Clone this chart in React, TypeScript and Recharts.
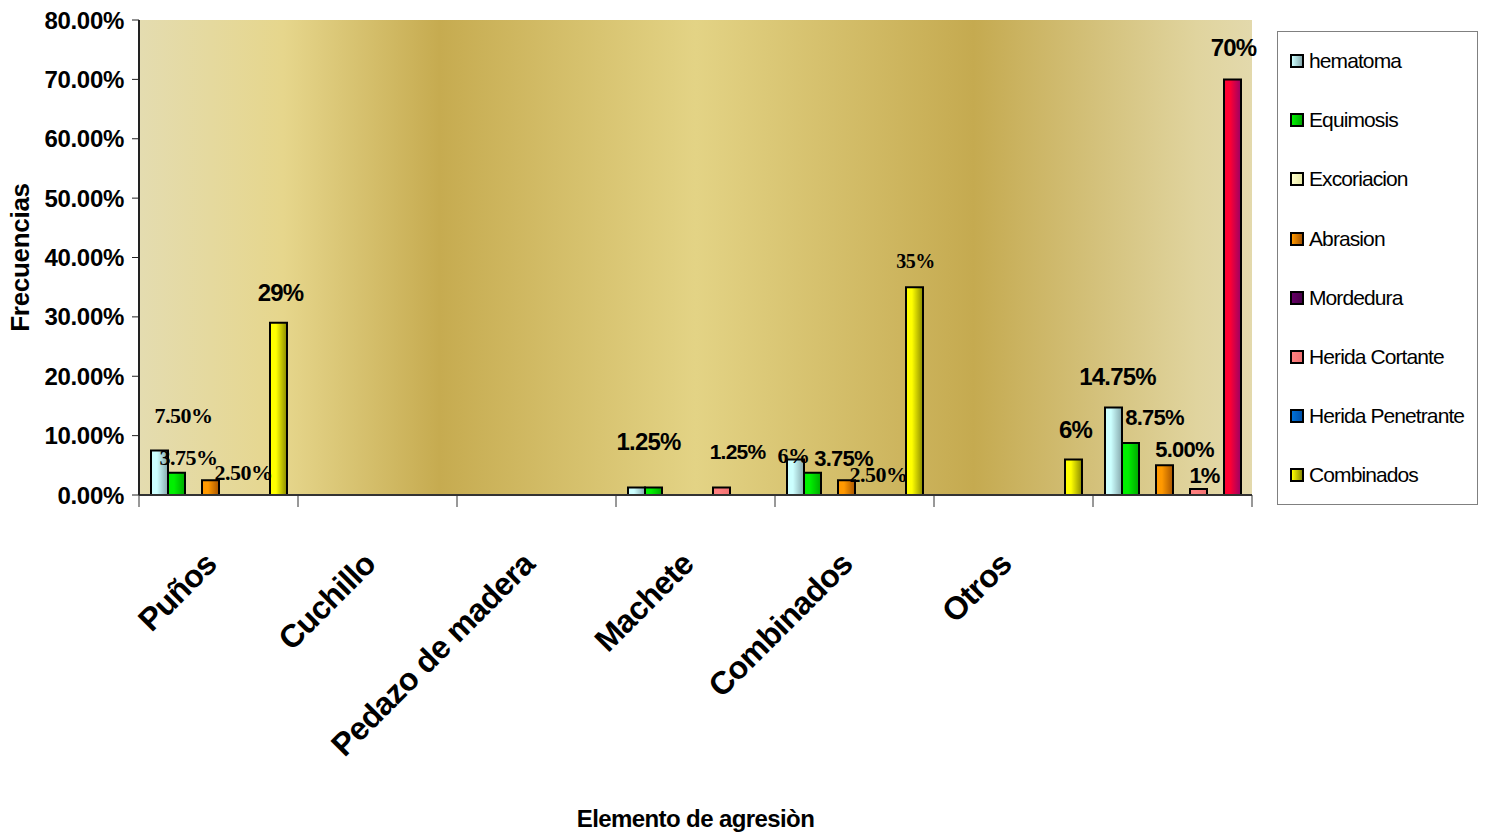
import React from 'react';
import {
  BarChart,
  Bar,
  XAxis,
  YAxis,
  CartesianGrid,
  Legend,
  LabelList,
  Cell,
} from 'recharts';

const categories = ['Puños', 'Cuchillo', 'Pedazo de madera', 'Machete', 'Combinados', 'Otros', ''];

const hematoma = [7.5, null, null, 1.25, 6, null, 14.75];
const equimosis = [3.75, null, null, 1.25, 3.75, null, 8.75];
const excoriacion = [null, null, null, null, null, null, null];
const abrasion = [2.5, null, null, null, 2.5, null, 5];
const mordedura = [null, null, null, null, null, null, null];
const heridaCortante = [null, null, null, 1.25, null, null, 1];
const heridaPenetrante = [null, null, null, null, null, null, null];
const combinados = [29, null, null, null, 35, 6, 70];

const yTicks = [0, 10, 20, 30, 40, 50, 60, 70, 80];

const W = 1487;
const H = 832;
const PLOT_LEFT = 139;
const PLOT_RIGHT = 1252;
const PLOT_TOP = 20;
const PLOT_BOTTOM = 495;
const BAND = (PLOT_RIGHT - PLOT_LEFT) / categories.length;

const SANS = '"Liberation Sans", Arial, sans-serif';
const SERIF = '"Liberation Serif", "Times New Roman", serif';

const series = [
  { key: 'hematoma', name: 'hematoma', values: hematoma, from: '#CCFFFF', to: '#86A8AC' },
  { key: 'equimosis', name: 'Equimosis', values: equimosis, from: '#00F000', to: '#00A800' },
  { key: 'excoriacion', name: 'Excoriacion', values: excoriacion, from: '#FFFFCC', to: '#E8E8A8' },
  { key: 'abrasion', name: 'Abrasion', values: abrasion, from: '#FF9900', to: '#A85500' },
  { key: 'mordedura', name: 'Mordedura', values: mordedura, from: '#660066', to: '#4A004A' },
  { key: 'cortante', name: 'Herida Cortante', values: heridaCortante, from: '#FF8080', to: '#F07070' },
  { key: 'penetrante', name: 'Herida Penetrante', values: heridaPenetrante, from: '#0070D8', to: '#0050A8' },
  { key: 'combinados', name: 'Combinados', values: combinados, from: '#FFFF00', to: '#8A8A00' },
];

// the 70% bar is painted on its own in the original
const HIGHLIGHT = { key: 'combinados', index: 6, from: '#FF0033', to: '#990066' };

const data = categories.map((name, i) => {
  const row: Record<string, any> = { name };
  series.forEach((s) => (row[s.key] = s.values[i]));
  return row;
});

// hand-placed data labels (offset from bar top centre)
const labelStyle: Record<string, { dx: number; dy: number; dec: number; serif?: boolean; size?: number }> = {
  'hematoma:0': { dx: 24, dy: -35, dec: 2, serif: true, size: 22 },
  'equimosis:0': { dx: 12, dy: -15, dec: 2, serif: true, size: 22 },
  'abrasion:0': { dx: 33, dy: -8, dec: 2, serif: true, size: 22 },
  'combinados:0': { dx: 2, dy: -30, dec: 0, size: 24 },
  'hematoma:3': { dx: 12, dy: -46, dec: 2, size: 24 },
  'cortante:3': { dx: 16, dy: -36, dec: 2, size: 21 },
  'hematoma:4': { dx: -2, dy: -4, dec: 0, serif: true, size: 22 },
  'equimosis:4': { dx: 31, dy: -14, dec: 2, size: 22 },
  'abrasion:4': { dx: 32, dy: -6, dec: 2, serif: true, size: 22 },
  'combinados:4': { dx: 1, dy: -26, dec: 0, serif: true, size: 20 },
  'combinados:5': { dx: 2, dy: -30, dec: 0, size: 24 },
  'hematoma:6': { dx: 4, dy: -31, dec: 2, size: 24 },
  'equimosis:6': { dx: 24, dy: -26, dec: 2, size: 22 },
  'abrasion:6': { dx: 20, dy: -16, dec: 2, size: 22 },
  'cortante:6': { dx: 6, dy: -14, dec: 0, size: 22 },
  'combinados:6': { dx: 1, dy: -32, dec: 0, size: 24 },
};

const makeLabel = (sk: string) => (props: any) => {
  const { x, y, width, value } = props;
  if (value == null) return null;
  const cx = Number(x) + Number(width) / 2;
  const cat = Math.floor((cx - PLOT_LEFT) / BAND);
  const st = labelStyle[`${sk}:${cat}`];
  if (!st) return null;
  return (
    <text
      x={cx + st.dx}
      y={Number(y) + st.dy}
      textAnchor="middle"
      dominantBaseline="central"
      fontFamily={st.serif ? SERIF : SANS}
      fontWeight="bold"
      fontSize={st.size ?? 22}
      letterSpacing={st.serif ? -0.5 : -0.8}
      fill="#000"
    >
      {Number(value).toFixed(st.dec)}%
    </text>
  );
};

const CategoryTick = (props: any) => {
  const { x, y, payload, index } = props;
  const left = x - BAND / 2;
  const ty = y + 71;
  return (
    <g>
      <line x1={left} y1={y} x2={left} y2={y + 12} stroke="#333" strokeWidth={1} />
      {index === categories.length - 1 && (
        <line x1={x + BAND / 2} y1={y} x2={x + BAND / 2} y2={y + 12} stroke="#333" strokeWidth={1} />
      )}
      {payload.value && (
        <text
          x={x}
          y={ty}
          transform={`rotate(-45, ${x}, ${ty})`}
          textAnchor="end"
          fontFamily={SANS}
          fontWeight="bold"
          fontSize={32}
          letterSpacing={-0.6}
          fill="#000"
        >
          {payload.value}
        </text>
      )}
    </g>
  );
};

const LegendBox = () => (
  <div
    style={{
      width: 201,
      height: 474,
      border: '1px solid #808080',
      background: '#fff',
      boxSizing: 'border-box',
      position: 'relative',
    }}
  >
    {series.map((s, i) => {
      const cy = 29 + i * 59.2;
      return (
        <div key={s.key}>
          <div
            style={{
              position: 'absolute',
              left: 12,
              top: cy - 7,
              width: 14,
              height: 14,
              boxSizing: 'border-box',
              border: '2px solid #000',
              background: `linear-gradient(to right, ${s.from}, ${s.to})`,
            }}
          />
          <div
            style={{
              position: 'absolute',
              left: 31,
              top: cy - 13,
              fontFamily: SANS,
              fontSize: 21,
              letterSpacing: -0.9,
              lineHeight: '26px',
              color: '#000',
              whiteSpace: 'nowrap',
            }}
          >
            {s.name}
          </div>
        </div>
      );
    })}
  </div>
);

export default function App() {
  return (
    <div style={{ position: 'fixed', left: 0, top: 0, width: W, height: H, background: '#fff' }}>
      <BarChart
        width={W}
        height={H}
        data={data}
        margin={{ top: PLOT_TOP, right: W - PLOT_RIGHT, bottom: 0, left: 0 }}
        barCategoryGap={12}
        barGap={0}
      >
        <defs>
          <linearGradient id="plotBg" x1="0" y1="0" x2="1" y2="0">
            <stop offset="0%" stopColor="#E4DCB0" />
            <stop offset="13%" stopColor="#E6D68C" />
            <stop offset="27%" stopColor="#C6AB50" />
            <stop offset="50%" stopColor="#E3D385" />
            <stop offset="75%" stopColor="#C5AA50" />
            <stop offset="95%" stopColor="#E0D49E" />
            <stop offset="100%" stopColor="#E3D9AC" />
          </linearGradient>
          {series.map((s) => (
            <linearGradient key={s.key} id={`g-${s.key}`} x1="0" y1="0" x2="1" y2="0">
              <stop offset="0%" stopColor={s.from} />
              <stop offset="35%" stopColor={s.from} />
              <stop offset="100%" stopColor={s.to} />
            </linearGradient>
          ))}
          <linearGradient id="g-highlight" x1="0" y1="0" x2="1" y2="0">
            <stop offset="0%" stopColor={HIGHLIGHT.from} />
            <stop offset="35%" stopColor={HIGHLIGHT.from} />
            <stop offset="100%" stopColor={HIGHLIGHT.to} />
          </linearGradient>
        </defs>
        <CartesianGrid horizontal={false} vertical={false} fill="url(#plotBg)" />
        <XAxis
          dataKey="name"
          height={H - PLOT_BOTTOM}
          interval={0}
          tickSize={0}
          tickMargin={0}
          tickLine={false}
          axisLine={{ stroke: '#333', strokeWidth: 2 }}
          tick={<CategoryTick />}
          label={{
            content: () => (
              <text
                x={PLOT_LEFT + (PLOT_RIGHT - PLOT_LEFT) / 2}
                y={818}
                textAnchor="middle"
                dominantBaseline="central"
                fontFamily={SANS}
                fontWeight="bold"
                fontSize={24}
                letterSpacing={-0.6}
                fill="#000"
              >
                Elemento de agresiòn
              </text>
            ),
          }}
        />
        <XAxis
          xAxisId="top"
          orientation="top"
          dataKey="name"
          height={0}
          tick={false}
          tickLine={false}
          axisLine={{ stroke: '#8A8A8A', strokeWidth: 2 }}
        />
        <YAxis
          width={PLOT_LEFT}
          domain={[0, 80]}
          ticks={yTicks}
          interval={0}
          tickSize={7}
          tickMargin={8}
          axisLine={{ stroke: '#222', strokeWidth: 2 }}
          tickLine={{ stroke: '#222', strokeWidth: 1 }}
          tick={{ fontFamily: SANS, fontWeight: 'bold', fontSize: 24, fill: '#000', letterSpacing: -0.3 }}
          tickFormatter={(v: number) => `${v.toFixed(2)}%`}
          label={{
            content: (p: any) => {
              const vb = p.viewBox || {};
              const cy = (vb.y ?? PLOT_TOP) + (vb.height ?? PLOT_BOTTOM - PLOT_TOP) / 2;
              return (
                <text
                  x={20}
                  y={cy}
                  transform={`rotate(-90, 20, ${cy})`}
                  textAnchor="middle"
                  dominantBaseline="central"
                  fontFamily={SANS}
                  fontWeight="bold"
                  fontSize={26}
                  letterSpacing={-0.3}
                  fill="#000"
                >
                  Frecuencias
                </text>
              );
            },
          }}
        />
        <YAxis
          yAxisId="right"
          orientation="right"
          width={0}
          domain={[0, 80]}
          tick={false}
          tickLine={false}
          axisLine={{ stroke: '#8A8A8A', strokeWidth: 2 }}
        />
        {series.map((s) => (
          <Bar
            key={s.key}
            dataKey={s.key}
            name={s.name}
            fill={`url(#g-${s.key})`}
            stroke="#000"
            strokeWidth={2}
            isAnimationActive={false}
          >
            {s.key === HIGHLIGHT.key &&
              data.map((_, i) => (
                <Cell key={i} fill={i === HIGHLIGHT.index ? 'url(#g-highlight)' : `url(#g-${s.key})`} />
              ))}
            <LabelList dataKey={s.key} content={makeLabel(s.key)} />
          </Bar>
        ))}
        <Legend
          layout="vertical"
          align="center"
          verticalAlign="middle"
          wrapperStyle={{ position: 'absolute', left: 1277, top: 31, width: 201, height: 474 }}
          content={() => <LegendBox />}
        />
      </BarChart>
    </div>
  );
}
